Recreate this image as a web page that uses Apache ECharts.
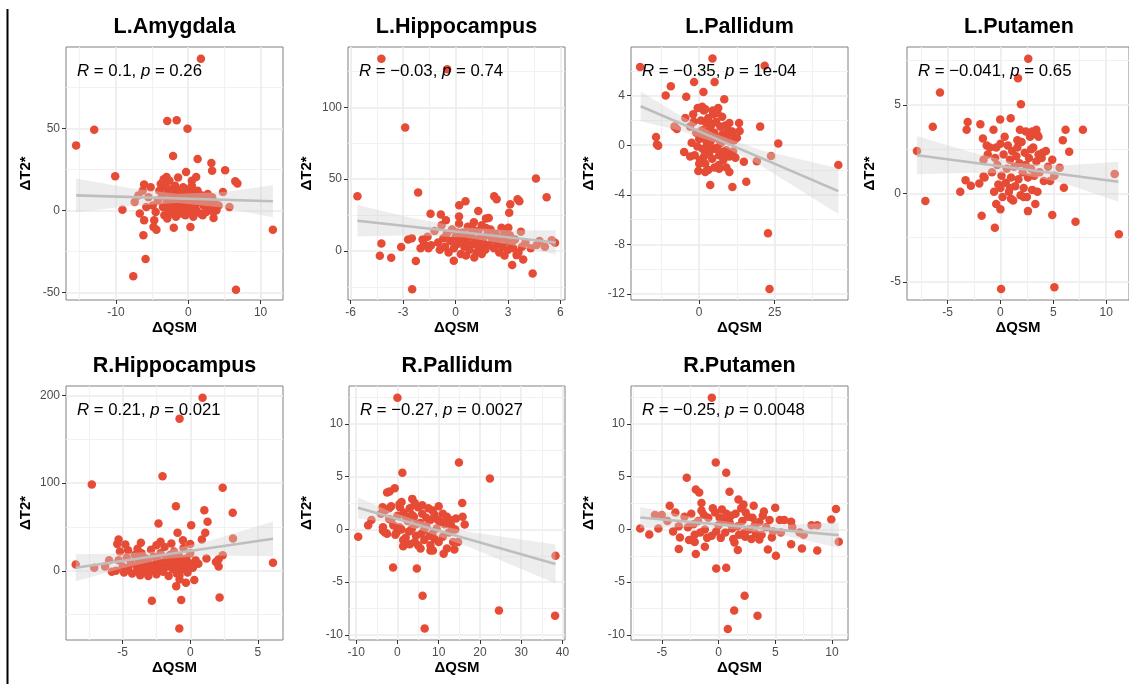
<!DOCTYPE html>
<html><head><meta charset="utf-8">
<script src="https://cdn.jsdelivr.net/npm/echarts@6/dist/echarts.min.js"></script>
<style>html,body{margin:0;padding:0;background:#fff}#c{width:1129px;height:684px}</style>
</head><body><div id="c"></div>
<script>
// ---------- data ----------
const panelTitles = ['L.Amygdala','L.Hippocampus','L.Pallidum','L.Putamen','R.Hippocampus','R.Pallidum','R.Putamen'];
const xAxisTitle = 'ΔQSM';
const yAxisTitle = 'ΔT2*';

const lAmygdalaPts = [[1.75,92.5],[-15.5,39.6],[-13.0,49.2],[-2.9,54.5],[-1.6,54.9],[-0.1,49.8],[-10.1,20.7],[-2.1,33.1],[1.3,31.3],[3.2,28.9],[3.3,24.2],[5.1,24.4],[-0.3,23.4],[1.1,20.3],[-3.0,20.3],[6.5,17.7],[6.8,16.3],[4.8,11.2],[-9.1,0.4],[-6.1,15.7],[-6.1,-6.1],[-6.2,-15.2],[-5.9,-29.7],[-7.6,-40.2],[-4.8,-10.2],[-4.4,-11.8],[-2.0,-10.6],[0.3,-10.2],[3.5,-4.7],[5.7,2.0],[6.6,-48.4],[11.7,-11.8],[-6.7,-2],[-7.4,5.1],[-6.9,9.1],
[-4.9,3],[-4.5,-1],[-4.2,6],[-4,12],[-3.8,16],[-3.6,9],[-3.5,2],[-3.3,-3],[-3.1,14],[-3,5],[-2.9,-5],[-2.8,11],[-2.7,0],[-2.6,18],[-2.5,7],[-2.4,3],[-2.3,-2],[-2.2,13],[-2.1,9],[-2,1],[-1.9,5],[-1.8,15],[-1.7,-4],[-1.6,11],[-1.5,3],[-1.4,8],[-1.3,0],[-1.2,12],[-1.1,6],[-1,-2],[-0.9,10],[-0.8,4],[-0.7,14],[-0.6,1],[-0.5,7],[-0.4,-3],[-0.3,12],[-0.2,3],[-0.1,9],[0,5],[0.1,-1],[0.2,13],[0.3,8],[0.4,2],[0.5,15],[0.6,6],[0.7,-4],[0.8,11],[0.9,3],[1,8],[1.1,0],[1.3,12],[1.5,5],[1.7,-2],[1.9,9],[2.1,3],[2.3,7],[2.5,-1],[2.7,10],[2.9,4],[3.1,1],[3.3,8],[3.6,5],[3.9,0],[4.2,3],[-5.5,8],[-5.8,2],[-6.3,12],[-4.7,-6],[-3.4,19],[-1.4,20],[0.5,18],[2,-3],[3.5,-1],[-5.2,14]];
const lAmygdalaXTicks = [-10,0,10];
const lAmygdalaYTicks = [-50,0,50];
const lAmygdalaFitX = [-15.5,11.7];
const lAmygdalaFitY = [9.1,5.5];
const lAmygdalaBandX = [-15.5,-8,-1.5,5,11.7];
const lAmygdalaBandLo = [-1.2,2.7,4.4,1.6,-4.3];
const lAmygdalaBandHi = [19.4,13.5,10.1,11.2,15.3];
const lAmygdalaStat = ['0.1','0.26'];

const lHippocampusPts = [[-4.24,133.8],[-0.48,126.4],[-2.88,85.9],[-5.61,38.2],[-2.14,40.7],[4.6,50.5],[5.21,37.5],[2.21,38.2],[2.35,36.1],[3.55,36.1],[3.65,34.7],[3.13,32.6],[3.07,26.6],[0.57,34.7],[0.21,31.9],[-1.43,25.9],[-0.84,25.5],[-0.55,21.5],[1.3,27.8],[1.74,22.7],[-4.24,5.3],[-4.33,-3.2],[-3.68,-4.6],[-3.11,2.8],[-2.71,8.1],[-2.5,9],[-2.27,-6.9],[-2.48,-26.6],[-1.89,8.1],[-1.55,1.9],[-0.1,-6.7],[1.07,-4.4],[3.24,-9.7],[4.41,-15.5],[3.87,-5.8],[3.49,-2.8],[5.69,5.8],[5.5,7.6],[4.64,4.2],[5.11,3.0],[2.63,16.2],[3.02,16.2],[3.74,13.4],
[-1.6,10],[-1.4,4],[-1.2,14],[-1,6],[-0.9,1],[-0.8,18],[-0.7,9],[-0.6,3],[-0.5,12],[-0.4,-1],[-0.3,7],[-0.2,15],[-0.1,2],[0,10],[0.1,5],[0.2,19],[0.3,-2],[0.35,8],[0.4,13],[0.5,3],[0.6,6],[0.7,17],[0.75,10],[0.8,1],[0.9,12],[1,5],[1.05,20],[1.1,8],[1.2,-1],[1.3,14],[1.35,3],[1.4,9],[1.5,18],[1.6,6],[1.7,1],[1.8,11],[1.9,4],[2,15],[2.1,8],[2.2,2],[2.3,12],[2.4,5],[2.5,-1],[2.6,9],[2.7,3],[2.8,13],[2.9,7],[3,1],[3.1,11],[3.2,5],[3.3,2],[3.4,8],[3.6,-1],[3.8,3],[4,6],[4.3,2],[4.8,7],[0.2,24],[1.9,23],[-1.8,5],[-2,2],[0.6,-3],[1.5,-2],[2.8,-3],[0.1,13],[1.0,15],[0.55,11],[1.25,4],[1.75,16],[2.35,9]];
const lHippocampusXTicks = [-6,-3,0,3,6];
const lHippocampusYTicks = [0,50,100];
const lHippocampusFitX = [-5.61,5.73];
const lHippocampusFitY = [21.1,6.0];
const lHippocampusBandX = [-5.61,-2.5,0.5,3,5.73];
const lHippocampusBandLo = [10.2,10.96,9.46,4.83,-2.45];
const lHippocampusBandHi = [32.0,22.96,16.46,14.43,14.45];
const lHippocampusStat = ['−0.03','0.74'];

const lPallidumPts = [[-19.6,6.3],[4.4,7.0],[21.7,6.4],[5.1,5.1],[-1.7,5.1],[-9.4,4.75],[-11.1,4.0],[-4.3,3.9],[1.4,4.3],[8.3,3.7],[-14.3,0.67],[-14.0,0.05],[-13.6,-0.05],[-8.2,1.5],[-7.4,1.3],[20.2,1.5],[26.2,0.13],[23.8,-0.86],[19.1,-1.3],[46.1,-1.6],[15.6,-2.95],[11.0,-3.36],[3.65,-3.2],[6.6,-1.9],[10.0,-2.15],[-0.3,-2.07],[2.0,-2.15],[-5.0,-0.54],[-3.0,-0.9],[14.8,-1.34],[22.8,-7.1],[23.3,-11.6],[13.2,1.8],[13.4,1.15],[-4.6,2.2],
[-3,1.5],[-2.5,0.2],[-2,2.5],[-1.5,-0.8],[-1,1],[-0.5,3],[0,0.5],[0.3,-1.2],[0.6,2],[1,1.2],[1.2,-0.3],[1.5,2.8],[1.8,0.8],[2,-1.5],[2.3,1.8],[2.6,0.1],[3,2.2],[3.3,-0.6],[3.6,1.4],[4,0.4],[4.3,-1.1],[4.6,2.5],[5,1],[5.3,-0.3],[5.6,1.9],[6,0.6],[6.3,3],[6.6,-0.8],[7,1.5],[7.3,0.2],[7.6,2.3],[8,-1.2],[8.3,0.9],[8.6,1.6],[9,-0.4],[9.3,0.5],[9.6,1.2],[10,-0.9],[10.4,0.3],[10.8,1],[11.2,-0.5],[11.6,0.4],[12,-1],[12.5,0.6],[1,3.1],[2,2.9],[4.5,2.8],[6,2.6],[3,-2],[6.5,-1.6],[9,-1.8],[0,-1.5],[-1.8,1.9],[0.5,0.8],[2.8,1],[5,-1.8],[7.8,0.9],[4.2,1.7],[1.6,-0.9],[8.8,-0.7],[10,1.8],[11,1.1],[3.5,0],[6.8,0.4],[-0.6,-0.1],[5.8,-0.2],[2.2,0.4],[7.1,-0.5]];
const lPallidumXTicks = [0,25];
const lPallidumYTicks = [-12,-8,-4,0,4];
const lPallidumFitX = [-19.4,46.1];
const lPallidumFitY = [3.14,-3.7];
const lPallidumBandX = [-19.4,-7,5,20,46.1];
const lPallidumBandLo = [1.94,1.2,0.24,-1.57,-5.55];
const lPallidumBandHi = [4.34,2.5,0.94,-0.37,-1.85];
const lPallidumStat = ['−0.35','1e-04'];

const lPutamenPts = [[2.63,7.6],[1.66,6.5],[-5.72,5.7],[1.94,5.04],[-6.4,3.76],[-7.9,2.39],[-7.1,-0.43],[-3.1,4.04],[-3.2,3.6],[-1.9,3.9],[-0.66,3.6],[-0.03,4.17],[0.97,4.25],[1.84,3.6],[3.0,3.5],[3.4,3.6],[3.5,3.3],[5.9,3.0],[6.16,3.6],[7.8,3.6],[6.5,2.35],[5.6,1.45],[10.8,1.1],[6.0,0.32],[4.9,-1.22],[7.1,-1.6],[11.2,-2.3],[0.06,-5.4],[5.1,-5.3],[-0.53,-1.94],[-1.78,-1.26],[2.6,-1.0],[3.3,-0.6],[-0.4,-0.6],[0,-0.9],[-3.8,0.1],[-3.3,0.75],[-2.8,0.43],[-2.0,0.56],[-1.6,0.95],[-1.6,1.9],[-1.66,3.1],[-1.3,2.7],
[-1,2.6],[-0.8,1.2],[-0.6,0.1],[-0.5,2.0],[-0.3,1.6],[-0.2,0.5],[0,2.8],[0.1,1.0],[0.2,-0.2],[0.3,2.2],[0.5,0.6],[0.6,1.4],[0.7,2.7],[0.8,0.1],[0.9,1.9],[1,0.9],[1.1,2.4],[1.2,-0.4],[1.3,1.5],[1.4,0.4],[1.5,2.1],[1.6,3.0],[1.7,0.8],[1.8,1.7],[1.9,-0.1],[2,2.9],[2.1,1.2],[2.2,0.3],[2.3,2.3],[2.4,1.6],[2.5,-0.2],[2.6,0.9],[2.7,2.0],[2.8,3.2],[2.9,1.4],[3,0.2],[3.1,2.6],[3.2,1.0],[3.3,3.4],[3.4,1.8],[3.5,0.1],[3.6,2.2],[3.7,1.2],[3.9,2.0],[4.1,0.7],[4.3,2.4],[4.5,1.5],[4.7,0.7],[4.9,1.9],[5.1,1.0],[-1.2,2.2],[-1.5,0.9],[0.4,3.2],[1.0,-0.3],[2.2,-0.2],[2.4,3.5],[3.6,3.2],[4.0,2.3],[0.0,0.3],[1.6,2.6],[-0.4,2.6],[0.9,0.3],[2.9,2.5]];
const lPutamenXTicks = [-5,0,5,10];
const lPutamenYTicks = [-5,0,5];
const lPutamenFitX = [-7.9,11.16];
const lPutamenFitY = [2.16,0.66];
const lPutamenBandX = [-7.9,-3,1.5,6,11.16];
const lPutamenBandLo = [1.08,1.17,1.12,0.57,-0.47];
const lPutamenBandHi = [3.24,2.37,1.72,1.57,1.79];
const lPutamenStat = ['−0.041','0.65'];

const rHippocampusPts = [[0.91,197.3],[-0.79,173.4],[-2.05,107.8],[-7.28,98.3],[2.4,94.5],[-1.06,73.6],[1.04,69.1],[3.14,66.0],[1.28,55.8],[0.07,52.0],[-2.35,53.9],[1.11,43.3],[-0.94,43.3],[3.16,36.8],[0.86,35.7],[6.12,9.1],[-8.47,7.2],[-7.1,3.4],[2.1,13],[2.1,5],[2.4,17.8],[2.17,-30.4],[-2.84,-34.2],[-0.67,-33.4],[-0.81,-65.7],[-1.04,-17.5],[-0.79,-9.9],[-0.32,-13.7],[0.3,-10.6],[0.17,3.4],[-3.65,31.9],[-5.3,35.7],[-5.4,30.4],[-4.6,23.5],[-0.54,34.9],[0,30.4],
[-5.5,0],[-5.3,12],[-5.2,22],[-5,5],[-4.9,-2],[-4.7,15],[-4.6,3],[-4.4,9],[-4.3,-3],[-4.1,18],[-4,6],[-3.9,1],[-3.8,12],[-3.7,-5],[-3.6,20],[-3.5,8],[-3.4,2],[-3.3,14],[-3.2,-2],[-3.1,10],[-3,5],[-2.9,24],[-2.8,0],[-2.7,16],[-2.6,7],[-2.5,-4],[-2.4,12],[-2.3,3],[-2.2,20],[-2.1,9],[-2,-1],[-1.9,27],[-1.8,14],[-1.7,5],[-1.6,-6],[-1.5,18],[-1.4,10],[-1.3,2],[-1.2,22],[-1.1,13],[-1,-3],[-0.9,7],[-0.8,16],[-0.7,1],[-0.6,11],[-0.5,26],[-0.4,5],[-0.3,14],[-0.2,-2],[-0.1,9],[0,20],[0.2,4],[0.4,12],[0.6,8],[-3.9,25],[-2.5,29],[-4.8,30],[-6,12],[-6.3,5],[-5.8,-1],[-1.4,31],[-2.2,33],[-3.1,-6],[-0.8,-5],[1.9,10],[1.2,14]];
const rHippocampusXTicks = [-5,0,5];
const rHippocampusYTicks = [0,100,200];
const rHippocampusFitX = [-8.47,6.12];
const rHippocampusFitY = [3.4,36.4];
const rHippocampusBandX = [-8.47,-5,-2,1.5,6.12];
const rHippocampusBandLo = [-12,2.75,13.5,17.5,16.5];
const rHippocampusBandHi = [18.8,19.75,22.5,34.5,56.3];
const rHippocampusStat = ['0.21','0.021'];

const rPallidumPts = [[0,12.5],[14.9,6.35],[22.4,4.83],[1.2,5.37],[-0.65,3.9],[-2.5,3.5],[-1.9,3.6],[-9.5,-0.7],[-7.1,0.4],[-6.3,0.9],[15.7,2.5],[-1.05,-3.6],[4.7,-3.7],[6.1,-6.3],[6.6,-9.4],[24.6,-7.7],[38.3,-2.5],[38.2,-8.2],[11.2,-2.3],[8.0,-2.0],[8.6,-2.0],[5.6,-1.8],[1.4,-1.6],[1.4,-1.0],[4.2,-1.2],[13.8,-1.9],[14.7,-1.2],[14.2,1.04],[15.8,1.2],[16.3,0.47],[3.6,2.9],[-3.6,2.1],[0.6,2.1],[-0.2,-0.3],[-3.5,-0.1],
[-4,1.5],[-3.5,0.2],[-3,1.8],[-2.5,-0.4],[-2,1],[-1.5,2.2],[-1,0.4],[-0.5,-0.5],[0,1.3],[0.5,2.4],[1,0],[1.5,1.6],[2,-0.8],[2.5,0.8],[3,2],[3.5,0.1],[4,1.2],[4.5,-0.6],[5,2.1],[5.5,0.6],[6,1.5],[6.5,-1],[7,0.3],[7.5,2],[8,0.9],[8.5,-0.4],[9,1.4],[9.5,0.1],[10,2.2],[10.5,0.7],[11,-0.7],[11.5,0.5],[12,1.2],[12.5,-0.3],[13,0.4],[13.5,-1.2],[14,0],[1,2.6],[3,-1.4],[6,2.3],[8,-1.5],[10,-1.2],[12,-1.8],[2,1.2],[4.5,0.5],[7,1.1],[9,-0.9],[5,-1.5],[-3,-0.3],[0.5,0.2],[3.5,1.4],[6.5,0],[8.5,1.8],[11,1.5],[-1.5,0.9],[5.8,-0.4],[2.8,-0.2],[9.8,0.9],[7.8,-0.6],[4.2,2.5],[12.8,0.9],[-2,2.0]];
const rPallidumXTicks = [-10,0,10,20,30,40];
const rPallidumYTicks = [-10,-5,0,5,10];
const rPallidumFitX = [-9.55,38.3];
const rPallidumFitY = [2.05,-3.28];
const rPallidumBandX = [-9.55,-2,5,18,38.3];
const rPallidumBandLo = [1.05,0.66,0.03,-1.77,-5.13];
const rPallidumBandHi = [3.05,1.76,0.83,-0.27,-1.43];
const rPallidumStat = ['−0.27','0.0027'];

const rPutamenPts = [[-0.59,12.5],[-0.24,6.35],[0.68,5.37],[-2.8,4.9],[-2.0,3.8],[-1.7,3.5],[0.97,3.57],[-1.5,2.5],[1.76,2.84],[-4.3,2.24],[2.2,2.37],[3.1,2.24],[5.0,2.05],[10.35,1.93],[9.94,0.95],[8.7,0.4],[10.6,-1.17],[8.7,-2.0],[7.35,-1.8],[6.4,-1.4],[5.06,-2.5],[4.35,-1.9],[4.7,-0.76],[-6.9,0.1],[-6.1,-0.47],[-5.3,0.1],[-5.6,1.36],[-5.0,1.36],[-3.4,-0.76],[-3.5,-1.86],[-2.6,-1.0],[-2.1,-1.2],[-2.0,-2.34],[-1.2,-1.64],[-0.2,-3.7],[0.68,-3.63],[1.41,-1.23],[1.7,-1.96],[2.3,-6.3],[1.38,-7.7],[3.44,-8.2],[0.82,-9.44],[5.4,0.9],[6.4,0.73],[7.15,-0.3],[3.6,-0.95],[2.35,-0.7],
[-3,1.2],[-2.7,0.2],[-2.4,1.5],[-2.1,-0.5],[-1.8,0.8],[-1.5,1.8],[-1.2,0],[-0.9,1.1],[-0.6,-0.6],[-0.3,1.6],[0,0.4],[0.3,1.9],[0.6,-0.3],[0.9,1.0],[1.2,0.1],[1.5,1.5],[1.8,-0.5],[2.1,0.8],[2.4,1.6],[2.7,0],[3,1.1],[3.3,-0.4],[3.6,0.7],[3.9,1.3],[4.2,0.2],[4.5,0.9],[4.8,-0.2],[-2.2,0.5],[-1,-0.8],[0.2,-0.8],[1,0.6],[2,2.0],[3.2,0.4],[-0.5,2.0],[0.7,1.5],[1.7,0.3],[2.6,1.2],[3.8,-0.5],[-1.6,-0.3],[0.4,0.9],[1.3,-0.9],[2.3,-0.3],[4.0,1.7],[-0.2,-0.2],[5.8,0.9],[6.5,0.2],[7.5,-0.5],[8.2,0.4],[5.5,-0.3],[-4.5,0.8],[-3.8,1.6],[-3.5,0.3],[-4,-0.2],[1.1,1.3],[2.9,-0.9],[-1.3,1.4],[0.1,1.1]];
const rPutamenXTicks = [-5,0,5,10];
const rPutamenYTicks = [-10,-5,0,5,10];
const rPutamenFitX = [-6.9,10.6];
const rPutamenFitY = [1.14,-0.54];
const rPutamenBandX = [-6.9,-2.5,1.5,6,10.6];
const rPutamenBandLo = [0.14,0.22,0.03,-0.65,-1.74];
const rPutamenBandHi = [2.14,1.22,0.63,0.45,0.66];
const rPutamenStat = ['−0.25','0.0048'];

// ---------- layout ----------
const FONT = '"Liberation Sans", Arial, Helvetica, sans-serif';
const panels = [
  {pts:lAmygdalaPts, xt:lAmygdalaXTicks, yt:lAmygdalaYTicks, fx:lAmygdalaFitX, fy:lAmygdalaFitY, bx:lAmygdalaBandX, blo:lAmygdalaBandLo, bhi:lAmygdalaBandHi, stat:lAmygdalaStat, xr:[-16.9,13.1], yr:[-54.7,99.6], box:[66,47,217,253], yGap:33, xGap:19},
  {pts:lHippocampusPts, xt:lHippocampusXTicks, yt:lHippocampusYTicks, fx:lHippocampusFitX, fy:lHippocampusFitY, bx:lHippocampusBandX, blo:lHippocampusBandLo, bhi:lHippocampusBandHi, stat:lHippocampusStat, xr:[-6.15,6.26], yr:[-34.0,141.9], box:[348,47,217,253], yGap:33.5, xGap:19},
  {pts:lPallidumPts, xt:lPallidumXTicks, yt:lPallidumYTicks, fx:lPallidumFitX, fy:lPallidumFitY, bx:lPallidumBandX, blo:lPallidumBandLo, bhi:lPallidumBandHi, stat:lPallidumStat, xr:[-22.6,49.3], yr:[-12.48,7.92], box:[631,47,217,253], yGap:34.5, xGap:19},
  {pts:lPutamenPts, xt:lPutamenXTicks, yt:lPutamenYTicks, fx:lPutamenFitX, fy:lPutamenFitY, bx:lPutamenBandX, blo:lPutamenBandLo, bhi:lPutamenBandHi, stat:lPutamenStat, xr:[-8.84,12.16], yr:[-6.02,8.27], box:[907,47,224,253], yGap:30, xGap:19},
  {pts:rHippocampusPts, xt:rHippocampusXTicks, yt:rHippocampusYTicks, fx:rHippocampusFitX, fy:rHippocampusFitY, bx:rHippocampusBandX, blo:rHippocampusBandLo, bhi:rHippocampusBandHi, stat:rHippocampusStat, xr:[-9.19,6.86], yr:[-78.9,210.6], box:[66,386,217,254], yGap:33, xGap:16},
  {pts:rPallidumPts, xt:rPallidumXTicks, yt:rPallidumYTicks, fx:rPallidumFitX, fy:rPallidumFitY, bx:rPallidumBandX, blo:rPallidumBandLo, bhi:rPallidumBandHi, stat:rPallidumStat, xr:[-11.73,40.6], yr:[-10.49,13.61], box:[349,386,216,254], yGap:34.5, xGap:16},
  {pts:rPutamenPts, xt:rPutamenXTicks, yt:rPutamenYTicks, fx:rPutamenFitX, fy:rPutamenFitY, bx:rPutamenBandX, blo:rPutamenBandLo, bhi:rPutamenBandHi, stat:rPutamenStat, xr:[-7.71,11.41], yr:[-10.49,13.61], box:[631,386,217,254], yGap:34.5, xGap:16}
];

function minorValues(ticks, lo, hi) {
  const step = ticks[1] - ticks[0];
  const out = [];
  for (let v = ticks[0] - step / 2 - step * 2; v <= ticks[ticks.length - 1] + step * 2; v += step) {
    if (v > lo && v < hi) out.push(+v.toFixed(6));
  }
  return out;
}

const nameStyle = {fontFamily: FONT, fontSize: 15, fontWeight: 'bold', color: '#000'};
const labelStyle = {fontFamily: FONT, fontSize: 12, color: '#4D4D4D'};

const grid = [], xAxis = [], yAxis = [], series = [], graphic = [];
panels.forEach((p, i) => {
  grid.push({left: p.box[0], top: p.box[1], width: p.box[2], height: p.box[3], show: true,
    borderColor: '#808080', borderWidth: 1, backgroundColor: '#fff', containLabel: false});
  // minor grid axes
  xAxis.push({type: 'value', gridIndex: i, position: 'top', min: p.xr[0], max: p.xr[1],
    axisLine: {show: false, onZero: false}, axisTick: {show: false, customValues: minorValues(p.xt, p.xr[0], p.xr[1])},
    axisLabel: {show: false}, splitLine: {show: true, lineStyle: {color: '#F1F1F1', width: 1.2}}});
  yAxis.push({type: 'value', gridIndex: i, position: 'right', min: p.yr[0], max: p.yr[1],
    axisLine: {show: false, onZero: false}, axisTick: {show: false, customValues: minorValues(p.yt, p.yr[0], p.yr[1])},
    axisLabel: {show: false}, splitLine: {show: true, lineStyle: {color: '#F1F1F1', width: 1.2}}});
  // main axes
  const xi = xAxis.length, yi = yAxis.length;
  xAxis.push({type: 'value', gridIndex: i, position: 'bottom', min: p.xr[0], max: p.xr[1],
    name: xAxisTitle, nameLocation: 'middle', nameGap: p.xGap, nameTextStyle: nameStyle,
    axisLine: {show: false, onZero: false},
    axisTick: {show: true, length: 4, customValues: p.xt, lineStyle: {color: '#333', width: 1}},
    axisLabel: Object.assign({customValues: p.xt, margin: 7}, labelStyle),
    splitLine: {show: true, lineStyle: {color: '#EBEBEB', width: 1.6}}});
  yAxis.push({type: 'value', gridIndex: i, position: 'left', min: p.yr[0], max: p.yr[1],
    name: yAxisTitle, nameLocation: 'middle', nameGap: p.yGap, nameTextStyle: nameStyle,
    axisLine: {show: false, onZero: false},
    axisTick: {show: true, length: 4, customValues: p.yt, lineStyle: {color: '#333', width: 1}},
    axisLabel: Object.assign({customValues: p.yt, margin: 6}, labelStyle),
    splitLine: {show: true, lineStyle: {color: '#EBEBEB', width: 1.6}}});

  series.push({type: 'scatter', xAxisIndex: xi, yAxisIndex: yi, data: p.pts, symbolSize: 8.5,
    itemStyle: {color: '#E64B35', opacity: 1}, z: 2, silent: true});

  const bandData = p.bx.map((x, k) => [x, p.blo[k], p.bhi[k]]);
  series.push({type: 'custom', xAxisIndex: xi, yAxisIndex: yi, data: bandData, z: 3, silent: true,
    encode: {x: 0, y: [1, 2]},
    renderItem: (params, api) => {
      if (params.dataIndex !== 0) return null;
      const pts = [];
      for (let k = 0; k < bandData.length; k++) pts.push(api.coord([bandData[k][0], bandData[k][2]]));
      for (let k = bandData.length - 1; k >= 0; k--) pts.push(api.coord([bandData[k][0], bandData[k][1]]));
      return {type: 'polygon', shape: {points: pts}, style: {fill: 'rgba(211,211,211,0.4)', stroke: null}};
    }});

  series.push({type: 'line', xAxisIndex: xi, yAxisIndex: yi, data: p.fx.map((x, k) => [x, p.fy[k]]),
    symbol: 'none', lineStyle: {color: '#BEBEBE', width: 2.6}, z: 4, silent: true});

  graphic.push({type: 'text', x: p.box[0] + p.box[2] / 2, y: p.box[1] - 20, z: 100,
    style: {text: panelTitles[i], fontFamily: FONT, fontSize: 21.5, fontWeight: 'bold', fill: '#000',
      align: 'center', verticalAlign: 'middle', textAlign: 'center', textVerticalAlign: 'middle'}});
  graphic.push({type: 'text', x: p.box[0] + 11, y: p.box[1] + 24.5, z: 100,
    style: {text: '{i|R} = ' + p.stat[0] + ', {i|p} = ' + p.stat[1], fontFamily: FONT, fontSize: 16.8, fill: '#000',
      rich: {i: {fontStyle: 'italic', fontFamily: FONT, fontSize: 16.8, fill: '#000'}},
      align: 'left', verticalAlign: 'middle', textAlign: 'left', textVerticalAlign: 'middle'}});
});
graphic.push({type: 'line', shape: {x1: 7.5, y1: 9, x2: 7.5, y2: 684}, style: {stroke: '#000', lineWidth: 2}, z: 100});

const chart = echarts.init(document.getElementById('c'), null, {renderer: 'canvas'});
chart.setOption({animation: false, backgroundColor: '#fff', grid, xAxis, yAxis, series, graphic});
</script>
</body></html>
